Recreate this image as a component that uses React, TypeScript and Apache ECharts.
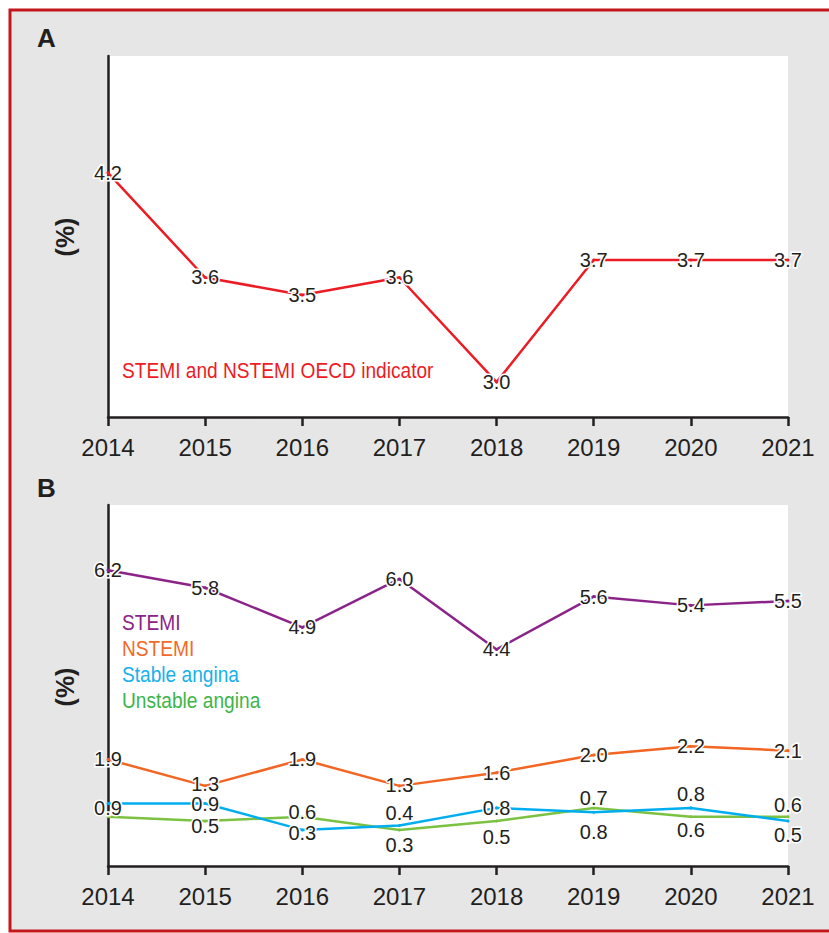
import React, { useEffect, useRef } from "react";
import * as echarts from "echarts";

const years = ["2014", "2015", "2016", "2017", "2018", "2019", "2020", "2021"];
const oecdIndicator = [4.2, 3.6, 3.5, 3.6, 3.0, 3.7, 3.7, 3.7];
const stemi = [6.2, 5.8, 4.9, 6.0, 4.4, 5.6, 5.4, 5.5];
const nstemi = [1.9, 1.3, 1.9, 1.3, 1.6, 2.0, 2.2, 2.1];
const stableAngina = [0.9, 0.9, 0.3, 0.4, 0.8, 0.7, 0.8, 0.5];
const unstableAngina = [0.6, 0.5, 0.6, 0.3, 0.5, 0.8, 0.6, 0.6];
const unstableLabelShown = [false, true, true, true, true, true, true, true];

const panelATitle = "A";
const panelBTitle = "B";
const yAxisName = "(%)";
const panelALegend = "STEMI and NSTEMI OECD indicator";
const panelBLegend = ["STEMI", "NSTEMI", "Stable angina", "Unstable angina"];

// layout-only config: vertical label offsets (px) per point
const nstemiLabelDy = [0, -2, 0, -1, 0, 0, 0, 0];
const stableLabelDy = [5, 1, 3, -12, 0, -14, -14, 14];
const unstableLabelDy = [0, 5, -5, 15, 16, 24, 13, -12];

const FONT = '"Liberation Sans", Arial, sans-serif';
const INK = "#231f20";
const colors = {
  red: "#ed1c24",
  purple: "#8b2389",
  orange: "#f26522",
  blue: "#00aeef",
  green: "#7cc242",
  greenText: "#3db54a",
};

export default function App() {
  const ref = useRef<HTMLDivElement>(null);
  useEffect(() => {
    if (!ref.current) return;
    const chart = echarts.init(ref.current, undefined, { renderer: "svg" });

    const baseLabel = {
      show: true,
      position: "inside",
      fontFamily: FONT,
      fontSize: 20,
      lineHeight: 17,
      color: INK,
      textBorderColor: "#ffffff",
      textBorderWidth: 3,
    };

    const xAxisBase = (gridIndex: number) => ({
      type: "category",
      gridIndex,
      data: years,
      boundaryGap: false,
      axisLine: { show: true, onZero: false, lineStyle: { color: INK, width: 2.5 } },
      axisTick: { show: true, length: 9, lineStyle: { color: INK, width: 2.5 } },
      axisLabel: { fontFamily: FONT, fontSize: 24, color: INK, margin: 18 },
      splitLine: { show: false },
    });
    const yAxisBase = (gridIndex: number, min: number, max: number) => ({
      type: "value",
      gridIndex,
      min,
      max,
      axisLine: { show: true, onZero: false, lineStyle: { color: INK, width: 2.5 } },
      axisTick: { show: false },
      axisLabel: { show: false },
      splitLine: { show: false },
    });

    const lineSeries = (
      name: string,
      values: number[],
      color: string,
      idx: number,
      dys?: number[],
      shown?: boolean[]
    ) => ({
      type: "line",
      name,
      xAxisIndex: idx,
      yAxisIndex: idx,
      symbol: "circle",
      symbolSize: 3,
      showSymbol: true,
      itemStyle: { color },
      lineStyle: { color, width: 2.5 },
      label: { ...baseLabel, formatter: (p: any) => Number(p.value).toFixed(1) },
      data: values.map((v, i) => ({
        value: v,
        label: {
          show: shown ? shown[i] : true,
          position: "inside",
          offset: [0, dys ? dys[i] : 0],
        },
      })),
    });

    const sx = 0.87;
    const option = {
      animation: false,
      backgroundColor: "#ffffff",
      grid: [
        { left: 108, top: 56, width: 680, height: 361, show: true, backgroundColor: "#ffffff", borderWidth: 0 },
        { left: 108, top: 505, width: 680, height: 361, show: true, backgroundColor: "#ffffff", borderWidth: 0 },
      ],
      xAxis: [xAxisBase(0), xAxisBase(1)],
      yAxis: [yAxisBase(0, 2.8, 4.87), yAxisBase(1, -0.52, 7.68)],
      series: [
        lineSeries("STEMI and NSTEMI OECD indicator", oecdIndicator, colors.red, 0),
        lineSeries("Unstable angina", unstableAngina, colors.green, 1, unstableLabelDy, unstableLabelShown),
        lineSeries("Stable angina", stableAngina, colors.blue, 1, stableLabelDy),
        lineSeries("NSTEMI", nstemi, colors.orange, 1, nstemiLabelDy),
        lineSeries("STEMI", stemi, colors.purple, 1),
      ],
      graphic: [
        {
          type: "rect",
          z: -100,
          shape: { x: 10, y: 10, width: 840, height: 921 },
          style: { fill: "#e6e6e7", stroke: "#c4161c", lineWidth: 3 },
        },
        {
          type: "text",
          x: 37,
          y: 38,
          style: { text: panelATitle, font: `bold 26px ${FONT}`, fill: INK, verticalAlign: "middle" },
        },
        {
          type: "text",
          x: 37,
          y: 488,
          style: { text: panelBTitle, font: `bold 26px ${FONT}`, fill: INK, verticalAlign: "middle" },
        },
        {
          type: "text",
          x: 65,
          y: 237,
          rotation: Math.PI / 2,
          style: { text: yAxisName, font: `bold 25px ${FONT}`, fill: INK, align: "center", verticalAlign: "middle" },
        },
        {
          type: "text",
          x: 65,
          y: 687,
          rotation: Math.PI / 2,
          style: { text: yAxisName, font: `bold 25px ${FONT}`, fill: INK, align: "center", verticalAlign: "middle" },
        },
        {
          type: "text",
          x: 122,
          y: 370,
          scaleX: sx,
          style: { text: panelALegend, font: `22px ${FONT}`, fill: colors.red, verticalAlign: "middle" },
        },
        ...panelBLegend.map((t, i) => ({
          type: "text",
          x: 122,
          y: 622 + i * 26,
          scaleX: sx,
          style: {
            text: t,
            font: `22px ${FONT}`,
            fill: [colors.purple, "#f26a2a", "#16b1ec", colors.greenText][i],
            verticalAlign: "middle",
          },
        })),
      ],
    };
    chart.setOption(option as any);
    return () => chart.dispose();
  }, []);
  return (
    <div
      ref={ref}
      style={{ position: "fixed", left: 0, top: 0, width: 829, height: 933 }}
    />
  );
}
